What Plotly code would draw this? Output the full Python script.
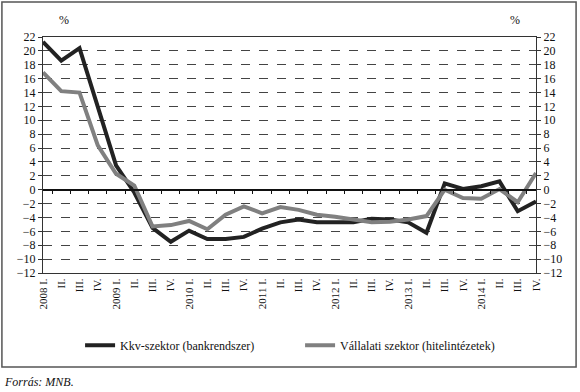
import plotly.graph_objects as go

years = ["2008", "2009", "2010", "2011", "2012", "2013", "2014"]
quarters = ["I.", "II.", "III.", "IV."]
categories = [f"{y} {q}" for y in years for q in quarters]
tick_labels = [f"{y} {q}" if q == "I." else q for y in years for q in quarters]

kkv = [21.3, 18.6, 20.4, 12.0, 3.5, -0.4, -5.5, -7.5, -5.9, -7.1, -7.1, -6.8,
       -5.6, -4.7, -4.3, -4.7, -4.7, -4.7, -4.2, -4.3, -4.7, -6.2, 0.9, 0.1,
       0.5, 1.2, -3.1, -1.7]
vallalati = [16.9, 14.2, 14.0, 6.4, 2.3, 0.6, -5.3, -5.1, -4.5, -5.7, -3.6, -2.4,
             -3.4, -2.5, -2.9, -3.6, -3.9, -4.3, -4.7, -4.6, -4.3, -3.8, 0.0, -1.2,
             -1.3, 0.1, -1.8, 2.4]

series_names = ["Kkv-szektor (bankrendszer)", "Vállalati szektor (hitelintézetek)"]
series_colors = ["#222222", "#808080"]

FONT = "Liberation Serif"
yr = [-12, 22]

fig = go.Figure()
for name, vals, col in zip(series_names, [kkv, vallalati], series_colors):
    fig.add_trace(go.Scatter(x=categories, y=vals, mode="lines", name=name,
                             line=dict(color=col, width=4)))
# invisible helper trace to activate the secondary axes
fig.add_trace(go.Scatter(x=categories, y=[None] * len(categories), xaxis="x2", yaxis="y2",
                         showlegend=False, hoverinfo="skip", mode="lines"))

fig.update_layout(
    width=580, height=392,
    margin=dict(l=43, r=44, t=37, b=119),
    paper_bgcolor="white", plot_bgcolor="white",
    font=dict(family=FONT, size=12, color="#111"),
    xaxis=dict(type="category", categoryarray=categories, tickmode="array",
               tickvals=categories, ticktext=tick_labels, tickangle=-90,
               showgrid=False, showline=True, mirror=True, linecolor="#333", linewidth=1,
               ticks="", tickfont=dict(size=11, family=FONT)),
    xaxis2=dict(type="category", categoryarray=categories, overlaying="x", anchor="free",
                position=12 / 34, tickson="boundaries", ticks="outside", ticklen=4,
                tickcolor="#111", showticklabels=False, showline=True, linecolor="#111",
                linewidth=1.5, showgrid=False, zeroline=False),
    yaxis=dict(range=yr, dtick=2, tickmode="linear", tick0=-12, showgrid=True,
               griddash="dash", gridcolor="#444", gridwidth=1, zeroline=True,
               zerolinecolor="#111", zerolinewidth=1.5, showline=True, mirror=True,
               linecolor="#333", linewidth=1, ticks="outside", ticklen=4, tickcolor="#333",
               tickfont=dict(size=12, family=FONT)),
    yaxis2=dict(range=yr, dtick=2, tickmode="linear", tick0=-12, overlaying="y", side="right",
                anchor="x", showgrid=False, zeroline=False, ticks="outside", ticklen=4,
                tickcolor="#333", tickfont=dict(size=12, family=FONT)),
    legend=dict(orientation="h", x=(80 - 43) / 492, xanchor="left", y=-0.245, yanchor="top",
                entrywidth=175, entrywidthmode="pixels",
                font=dict(size=12, family=FONT), bgcolor="rgba(0,0,0,0)"),
    showlegend=True,
)

fig.add_annotation(text="%", x=0.028, y=1.035, xref="paper", yref="paper",
                   showarrow=False, font=dict(size=12, family=FONT), yanchor="bottom")
fig.add_annotation(text="%", x=0.972, y=1.035, xref="paper", yref="paper",
                   showarrow=False, font=dict(size=12, family=FONT), yanchor="bottom")
fig.add_annotation(text="<i>Forrás: MNB.</i>", x=(2 - 43) / 492, y=(273 - 382) / 236,
                   xref="paper", yref="paper", xanchor="left", yanchor="middle",
                   showarrow=False, font=dict(size=12, family=FONT))
fig.add_shape(type="rect", xref="paper", yref="paper",
              x0=(2 - 43) / 492, x1=(575 - 43) / 492, y0=(273 - 367) / 236, y1=(273 - 2) / 236,
              line=dict(color="#555", width=1.5))

fig.write_html("out.html", config={"displayModeBar": False},
               post_script="document.body.style.margin='0';")
